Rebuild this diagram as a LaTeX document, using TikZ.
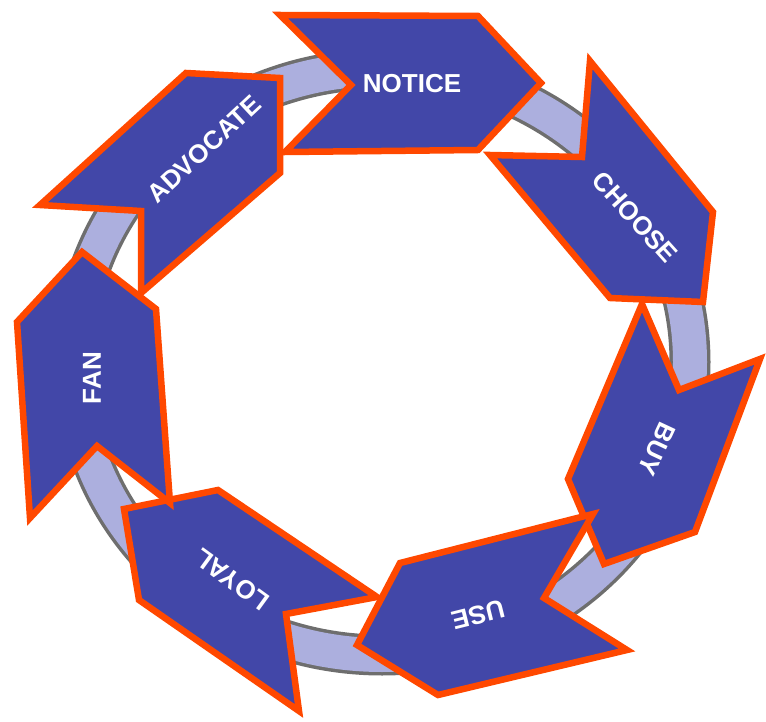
\documentclass[tikz,border=0pt]{standalone}
\usepackage{fontspec}
\setmainfont{Liberation Sans}
\usepackage{xcolor}
\usepackage{tikz}

\definecolor{chevblue}{RGB}{66,71,168}
\definecolor{chevorange}{RGB}{255,72,0}
\definecolor{ringfill}{RGB}{172,175,222}
\definecolor{ringedge}{RGB}{110,110,110}

\begin{document}
\begin{tikzpicture}[x=1pt,y=-1pt]

\tikzstyle{chevron}=[draw=chevorange,fill=chevblue,line width=6.5pt,line join=miter]
\tikzstyle{stage}=[text=white,inner sep=0pt,font=\bfseries\fontsize{26}{30}\selectfont]
\tikzset{ring band/.style={ringfill,line width=34pt}}

\useasboundingbox (0,0) rectangle (766,722);

% the ring behind the arrows
\draw[ringedge,line width=41pt] (382,362) ellipse [x radius=308, y radius=293];
\draw[ring band] (382,362) ellipse [x radius=308, y radius=293];

% chevrons
\draw[chevron] (218,490) -- (124,509) -- (139,600) -- (299,711) -- (286,614) -- (377,597) -- cycle;
\draw[chevron] (82,252) -- (156,309) -- (170,503) -- (97,446) -- (30,518) -- (17,322) -- cycle;
\draw[chevron] (40,205) -- (186,73) -- (280,78) -- (280,173) -- (141,293) -- (141,211) -- cycle;
\draw[chevron] (280,15) -- (478,16) -- (541,83) -- (478,150) -- (285,152) -- (351,85) -- cycle;
\draw[chevron] (590,61) -- (713,212) -- (703,302) -- (610,298) -- (490,155) -- (582,157) -- cycle;
\draw[chevron] (642,304) -- (568,479) -- (604,564) -- (695,532) -- (760,359) -- (679,390) -- cycle;
\draw[chevron] (593,514) -- (400,563) -- (357,645) -- (438,695) -- (627,650) -- (544,598) -- cycle;

% labels
\node[stage]             (notice)   at (412,84)  {NOTICE};
\node[stage,rotate=-48]  (choose)   at (635,217) {CHOOSE};
\node[stage,rotate=-115] (buy)      at (657,449) {BUY};
\node[stage,rotate=-166] (use)      at (478,615) {USE};
\node[stage,rotate=144]  (loyal)    at (232,580) {LOYAL};
\node[stage,rotate=90]   (fan)      at (92,378)  {FAN};
\node[stage,rotate=43]   (advocate) at (204,149) {ADVOCATE};

\end{tikzpicture}
\end{document}
